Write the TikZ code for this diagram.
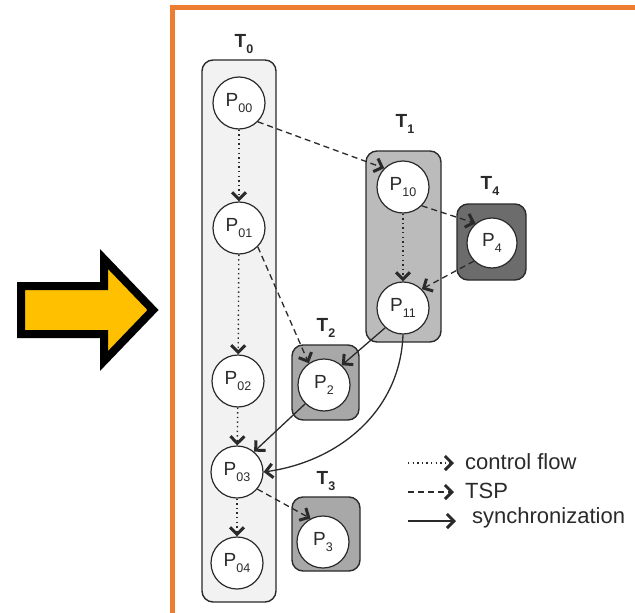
\documentclass[tikz,border=0pt]{standalone}
\usepackage{fontspec}
\setmainfont{Liberation Sans}
\usetikzlibrary{arrows.meta}

\definecolor{frameorange}{HTML}{ED7D31}
\definecolor{arrowgold}{HTML}{FFC000}
\definecolor{tzero}{HTML}{F2F2F2}
\definecolor{tone}{HTML}{BBBBBB}
\definecolor{ttwo}{HTML}{A8A8A8}
\definecolor{tfour}{HTML}{6C6C6C}
\definecolor{ink}{HTML}{2A2A2A}

\newcommand\Pn[1]{P\raisebox{-0.32em}{\fontsize{12.5}{12.5}\selectfont #1}}
\newcommand\Tn[1]{T\raisebox{-0.3em}{\fontsize{12.5}{12.5}\selectfont\bfseries #1}}

\begin{document}
\begin{tikzpicture}[x=1pt,y=-1pt,
  proc/.style={circle, draw=ink, line width=1.2pt, fill=white, minimum size=52pt,
    inner sep=0pt, text=ink, font=\fontsize{19}{19}\selectfont},
  task/.style={draw=ink, line width=1.4pt, rounded corners=11pt, inner sep=0pt},
  tlabel/.style={text=ink, font=\fontsize{19}{19}\selectfont\bfseries},
  barb/.style={-{Straight Barb[length=7pt,width=14pt,line width=3pt]}},
  ctrl/.style={barb, draw=ink, line width=1.4pt, dash pattern=on 1.4pt off 3.2pt},
  tsp/.style={barb, draw=ink, line width=1.3pt, dash pattern=on 6pt off 4pt},
  sync/.style={barb, draw=ink, line width=1.3pt},
  legend/.style={anchor=west, text=ink, font=\fontsize{22}{22}\selectfont}]
\useasboundingbox (0,0) rectangle (635,613);

% big yellow arrow on the left
\draw[line width=8pt, line join=miter, fill=arrowgold]
  (21,286) -- (104,286) -- (104,259) -- (153,310) -- (104,361) -- (104,334) -- (21,334) -- cycle;

% orange frame (left and top edges)
\draw[frameorange, line width=5pt] (172.5,640) -- (172.5,7.5) -- (660,7.5);

% task boxes
\node[task, fill=tzero, minimum width=74pt, minimum height=542pt] (T0) at (239,331) {};
\node[task, fill=tone,  minimum width=75pt, minimum height=191pt] (T1) at (403.5,246.5) {};
\node[task, fill=tfour, minimum width=69pt, minimum height=76pt] (T4) at (491.5,242) {};
\node[task, fill=ttwo,  minimum width=67pt, minimum height=75pt] (T2) at (325.5,382.5) {};
\node[task, fill=ttwo,  minimum width=68pt, minimum height=74pt] (T3) at (326,534) {};

% task labels
\node[tlabel] (L0) at (244,44) {\Tn{0}};
\node[tlabel] (L1) at (405,124) {\Tn{1}};
\node[tlabel] (L4) at (490,186) {\Tn{4}};
\node[tlabel] (L2) at (326,328) {\Tn{2}};
\node[tlabel] (L3) at (326,481) {\Tn{3}};

% processes
\node[proc] (P00) at (239,103) {\Pn{00}};
\node[proc] (P01) at (239,228) {\Pn{01}};
\node[proc] (P02) at (238,381) {\Pn{02}};
\node[proc] (P03) at (237,472) {\Pn{03}};
\node[proc] (P04) at (237,563) {\Pn{04}};
\node[proc] (P10) at (403,187) {\Pn{10}};
\node[proc] (P11) at (403,308) {\Pn{11}};
\node[proc, minimum size=50pt] (P4) at (492,243) {\Pn{4}};
\node[proc] (P2) at (324,385) {\Pn{2}};
\node[proc] (P3) at (323,542) {\Pn{3}};

% control flow
\draw[ctrl] (P00) -- (P01);
\draw[ctrl] (P01) -- (P02);
\draw[ctrl] (P02) -- (P03);
\draw[ctrl] (P03) -- (P04);
\draw[ctrl] (P10) -- (P11);

% TSP
\draw[tsp] (P00.-45) -- (P10.135);
\draw[tsp] (P10.-45) -- (P4.130);
\draw[tsp] (P4.225) -- (P11.45);
\draw[tsp] (P01.-45) -- (P2.125);
\draw[tsp] (P03.-40) -- (P3.118);

% synchronization
\draw[sync] (P11.228) -- (P2.48);
\draw[sync] (P2.225) -- (P03.50);
\draw[sync] (P11.south) to[out=-92, in=8] (P03.east);

% legend
\coordinate (c1) at (408,463);
\coordinate (c2) at (454,463);
\coordinate (d1) at (408,492);
\coordinate (d2) at (454,492);
\coordinate (s1) at (408,521);
\coordinate (s2) at (456,521);
\draw[ctrl] (c1) -- (c2);
\draw[tsp] (d1) -- (d2);
\draw[sync] (s1) -- (s2);
\node[legend, inner sep=0pt] (lc) at (465,462) {control flow};
\node[legend, inner sep=0pt] (ld) at (465,491) {TSP};
\node[legend, inner sep=0pt] (ls) at (472,518) {synchronization};
\end{tikzpicture}
\end{document}
